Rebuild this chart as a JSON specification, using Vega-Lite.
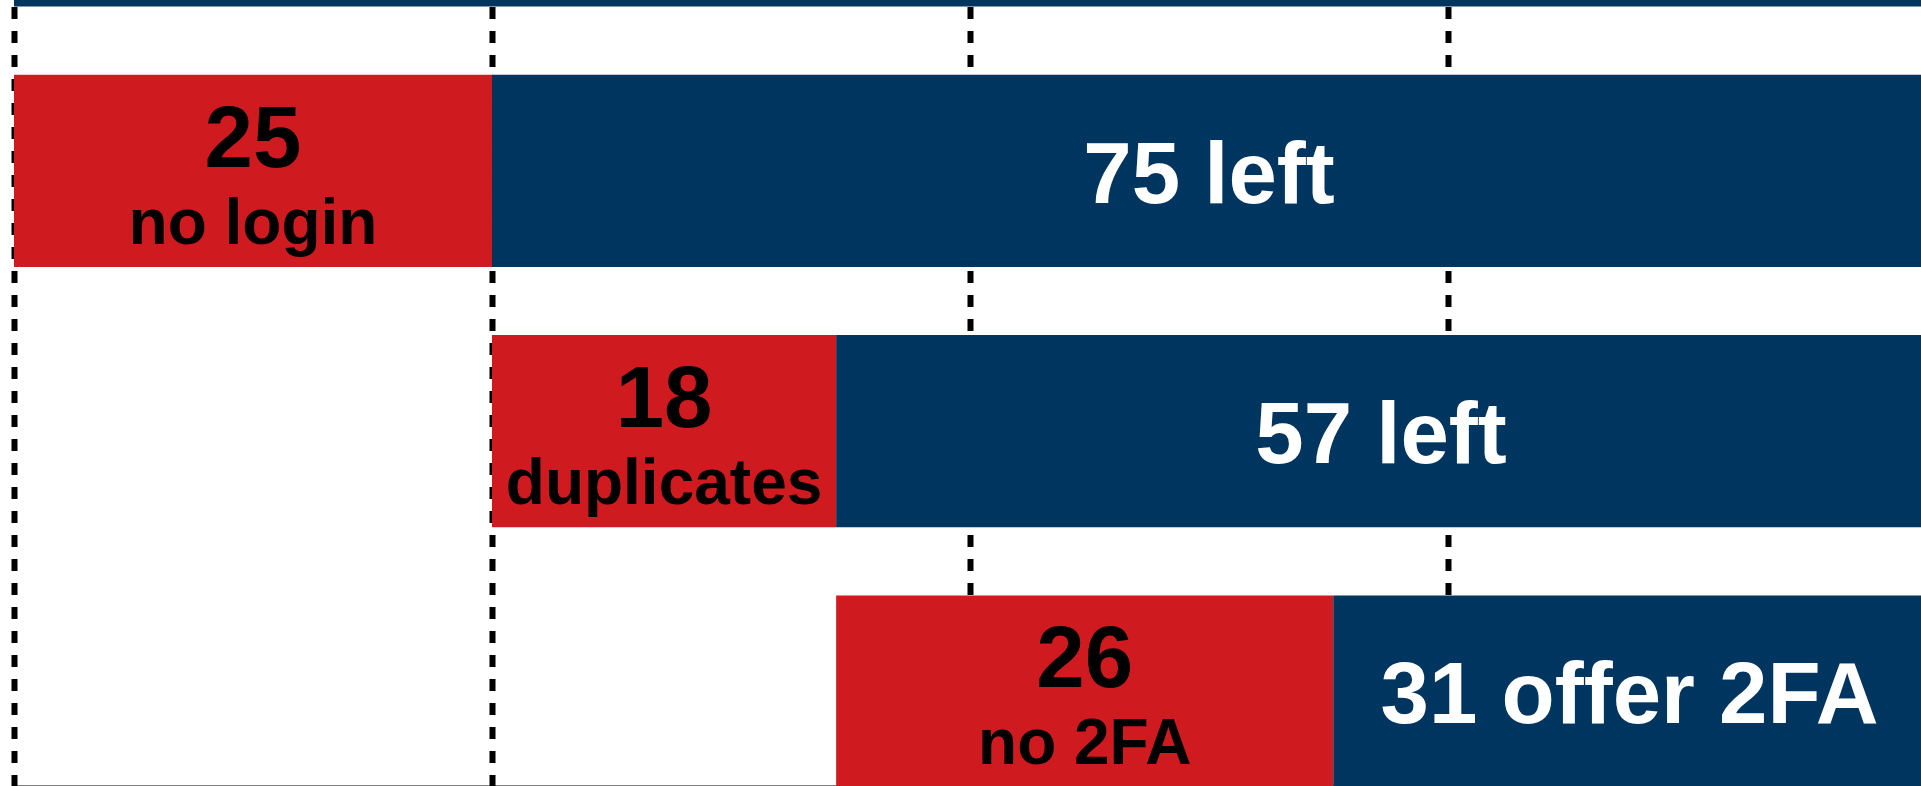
{
  "$schema": "https://vega.github.io/schema/vega-lite/v6.json",
  "width": 1907,
  "height": 786,
  "autosize": {"type": "none"},
  "padding": {"left": 14, "top": 0, "right": 0, "bottom": 0},
  "background": "white",
  "config": {"view": {"stroke": null}},
  "data": {
    "values": [
      {"row": "r0", "from": 0, "to": 100, "kind": "left", "big": "", "small": ""},
      {"row": "r1", "from": 0, "to": 25, "kind": "drop", "big": "25", "small": "no login"},
      {"row": "r1", "from": 25, "to": 100, "kind": "left", "big": "75 left", "small": ""},
      {"row": "r2", "from": 25, "to": 43, "kind": "drop", "big": "18", "small": "duplicates"},
      {"row": "r2", "from": 43, "to": 100, "kind": "left", "big": "57 left", "small": ""},
      {"row": "r3", "from": 43, "to": 69, "kind": "drop", "big": "26", "small": "no 2FA"},
      {"row": "r3", "from": 69, "to": 100, "kind": "left", "big": "31 offer 2FA", "small": ""}
    ]
  },
  "transform": [{"calculate": "(datum.from + datum.to) / 2", "as": "mid"}],
  "encoding": {
    "y": {
      "field": "row",
      "type": "nominal",
      "sort": ["r0", "r1", "r2", "r3"],
      "scale": {"domain": ["r0", "r1", "r2", "r3"], "range": [-185.5, 787.5], "paddingInner": 0.262, "paddingOuter": 0},
      "axis": null
    }
  },
  "layer": [
    {
      "mark": {"type": "bar", "clip": true},
      "encoding": {
        "x": {
          "field": "from",
          "type": "quantitative",
          "scale": {"domain": [0, 99.74], "nice": false, "zero": false},
          "axis": {
            "values": [0, 25, 50, 75],
            "labels": false,
            "ticks": false,
            "title": null,
            "domain": true,
            "domainColor": "black",
            "domainWidth": 2,
            "grid": true,
            "gridColor": "black",
            "gridWidth": 6,
            "gridOpacity": 1,
            "gridDash": [12, 12],
            "gridDashOffset": 7
          }
        },
        "x2": {"field": "to"},
        "color": {
          "field": "kind",
          "type": "nominal",
          "scale": {"domain": ["drop", "left"], "range": ["#CF1A1F", "#00355F"]},
          "legend": null
        }
      }
    },
    {
      "transform": [{"filter": "datum.kind == 'drop'"}],
      "mark": {"type": "text", "font": "Liberation Sans", "fontWeight": "bold", "fontSize": 87, "color": "black", "align": "center", "baseline": "alphabetic", "dy": -4},
      "encoding": {
        "x": {"field": "mid", "type": "quantitative"},
        "text": {"field": "big"}
      }
    },
    {
      "transform": [{"filter": "datum.kind == 'drop'"}],
      "mark": {"type": "text", "font": "Liberation Sans", "fontWeight": "bold", "fontSize": 64, "color": "black", "align": "center", "baseline": "alphabetic", "dy": 73},
      "encoding": {
        "x": {"field": "mid", "type": "quantitative"},
        "text": {"field": "small"}
      }
    },
    {
      "transform": [{"filter": "datum.kind == 'left' && datum.big != ''"}],
      "mark": {"type": "text", "font": "Liberation Sans", "fontWeight": "bold", "fontSize": 87, "color": "white", "align": "center", "baseline": "alphabetic", "dy": 32},
      "encoding": {
        "x": {"field": "mid", "type": "quantitative"},
        "text": {"field": "big"}
      }
    }
  ]
}
